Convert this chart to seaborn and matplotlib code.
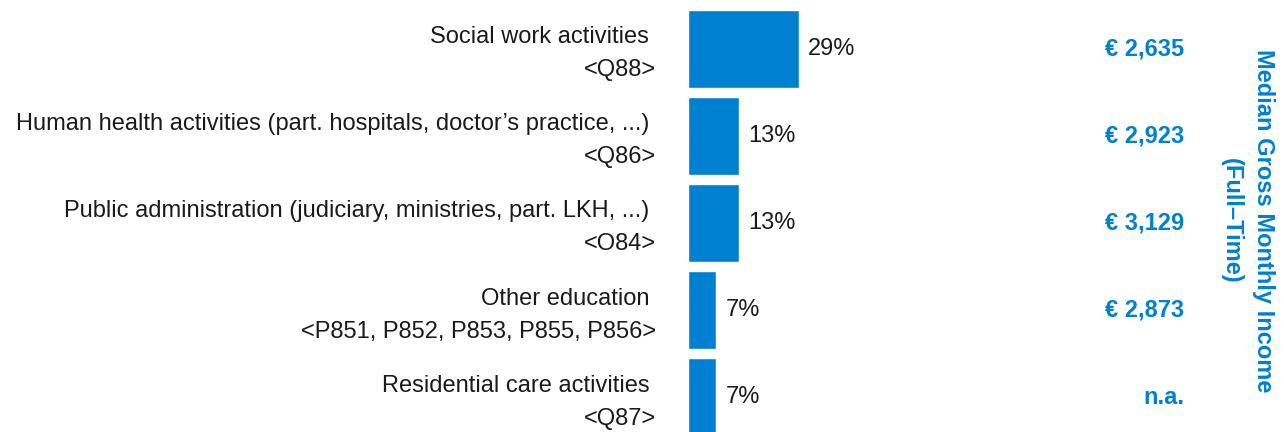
import matplotlib
matplotlib.use("Agg")
import matplotlib.pyplot as plt
import matplotlib.transforms as mtransforms
import pandas as pd
import seaborn as sns

# Daten
industries = [
    "Social work activities ",
    "Human health activities (part. hospitals, doctor\u2019s practice, ...) ",
    "Public administration (judiciary, ministries, part. LKH, ...) ",
    "Other education ",
    "Residential care activities ",
]
codes = ["<Q88>", "<Q86>", "<O84>", "<P851, P852, P853, P855, P856>", "<Q87>"]
shares = [28.9, 13.4, 13.3, 7.4, 7.4]
income_labels = ["\u20ac 2,635", "\u20ac 2,923", "\u20ac 3,129", "\u20ac 2,873", "n.a."]

blue = "#0080d0"

df = pd.DataFrame({
    "label": [f"{a}\n{b}" for a, b in zip(industries, codes)],
    "share": shares,
})

sns.set_theme(style="white")
plt.rcParams["font.family"] = ["Liberation Sans", "DejaVu Sans"]

fig = plt.figure(figsize=(12.84, 4.32), dpi=100)
ax = fig.add_axes([688 / 1284, 0, 392 / 1284, 1])

sns.barplot(data=df, y="label", x="share", orient="h", color=blue,
            saturation=1, width=0.9, ax=ax)

ax.set_xlim(0, 102.4)
ax.set_ylim(4.40, -0.56)
ax.set_xlabel("")
ax.set_ylabel("")
ax.set_xticks([])
ax.set_yticks(range(len(df)))
ax.set_yticklabels([])
ax.tick_params(axis="y", length=0)
for s in ax.spines.values():
    s.set_visible(False)

# Kategorien links (zweizeilig)
trans = mtransforms.blended_transform_factory(fig.transFigure, ax.transData)
for i, lab in enumerate(df["label"]):
    ax.text(656 / 1284, i + 0.057, lab, transform=trans, ha="right", va="center",
            multialignment="right", fontsize=17, color="#1a1a1a", linespacing=1.65)

# Prozentwerte
for i, v in enumerate(shares):
    ax.text(v + 2.4, i, f"{round(v)}%", va="center", ha="left",
            fontsize=17, color="#1a1a1a")

# Einkommen rechts
for i, lab in enumerate(income_labels):
    ax.text(1184 / 1284, i, lab, transform=trans, ha="right", va="center",
            fontsize=17, fontweight="bold", color=blue)

fig.text(1247 / 1284, 0.488, "Median Gross Monthly Income\n(Full\u2013Time)",
         rotation=-90, ha="center", va="center", multialignment="center",
         fontsize=17, fontweight="bold", color=blue, linespacing=1.5)

fig.savefig("out.png", dpi=100)
